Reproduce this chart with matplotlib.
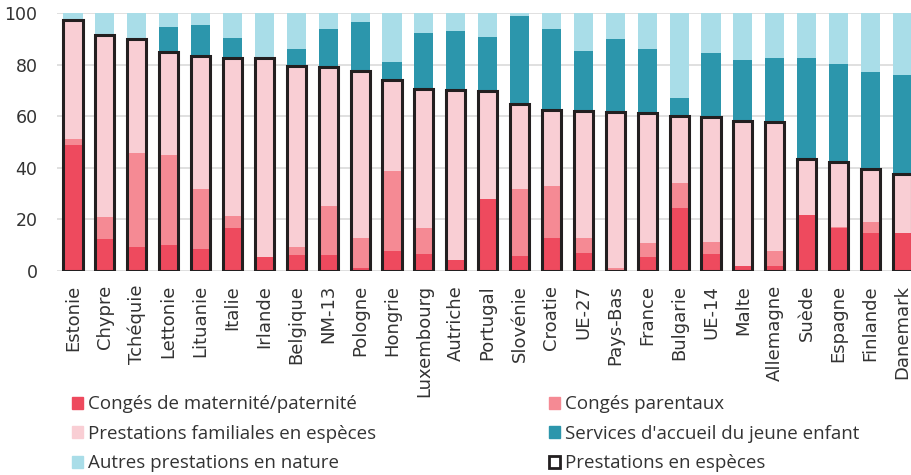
import numpy as np
import matplotlib.pyplot as plt
from matplotlib.patches import Patch

# Données (en % des dépenses)
pays = ["Estonie", "Chypre", "Tchéquie", "Lettonie", "Lituanie", "Italie", "Irlande",
        "Belgique", "NM-13", "Pologne", "Hongrie", "Luxembourg", "Autriche", "Portugal",
        "Slovénie", "Croatie", "UE-27", "Pays-Bas", "France", "Bulgarie", "UE-14", "Malte",
        "Allemagne", "Suède", "Espagne", "Finlande", "Danemark"]
maternite = [48.8, 12.3, 9.4, 10.1, 8.6, 16.8, 5.4, 6.2, 6.2, 1.3, 7.9, 6.6, 4.3, 27.8,
             5.8, 12.9, 6.8, 0.3, 5.3, 24.5, 6.6, 2.1, 2.1, 21.8, 16.5, 14.9, 14.6]
parentaux = [2.2, 8.5, 36.2, 34.9, 23.2, 4.6, 0.0, 3.1, 19.1, 11.6, 30.9, 10.1, 0.0, 0.0,
             26.0, 20.2, 6.1, 0.9, 5.4, 9.5, 4.5, 0.0, 5.7, 0.0, 0.4, 4.2, 0.2]
familiales = [46.4, 70.6, 44.3, 39.9, 51.4, 61.2, 77.2, 70.3, 53.7, 64.8, 35.1, 53.9, 65.9, 42.1,
              33.1, 29.3, 49.0, 60.3, 50.6, 26.2, 48.6, 55.9, 50.1, 21.6, 25.5, 20.4, 22.7]
accueil = [0.0, 0.0, 0.0, 9.5, 12.1, 7.7, 0.0, 6.3, 14.8, 18.8, 7.1, 21.8, 22.8, 20.8,
           33.9, 31.3, 23.5, 28.3, 24.7, 7.0, 24.7, 23.8, 24.7, 39.3, 37.7, 37.8, 38.5]
autres = [2.6, 8.6, 10.1, 5.6, 4.7, 9.7, 17.4, 14.1, 6.2, 3.5, 19.0, 7.6, 7.0, 9.3,
          1.2, 6.3, 14.6, 10.2, 14.0, 32.8, 15.6, 18.2, 17.4, 17.3, 19.9, 22.7, 24.0]

c_mat = "#EE4A5E"
c_par = "#F58A94"
c_fam = "#F9CED4"
c_acc = "#2C96AC"
c_aut = "#A9DDE8"

fig = plt.figure(figsize=(9.12, 4.75), dpi=100)
ax = fig.add_axes([0.0625, 0.4295, 0.9375, 0.5431])

x = np.arange(len(pays))
w = 0.6
bottom = np.zeros(len(pays))
for vals, col in [(maternite, c_mat), (parentaux, c_par), (familiales, c_fam),
                  (accueil, c_acc), (autres, c_aut)]:
    ax.bar(x, vals, w, bottom=bottom, color=col, zorder=2)
    bottom += np.array(vals)

# contour : prestations en espèces
especes = np.array(maternite) + np.array(parentaux) + np.array(familiales)
ax.bar(x, especes, w, fill=False, edgecolor="#231F20", linewidth=2.2, zorder=3)

ax.set_ylim(0, 100)
ax.set_xlim(-0.5, 26.3)
ax.set_yticks(range(0, 101, 20))
ax.grid(axis="y", color="#dddddd", linewidth=1.3, zorder=0)
for s in ax.spines.values():
    s.set_visible(False)
ax.set_xticks(x)
ax.set_xticklabels(pays, rotation=90, fontsize=13, color="#333333")
ax.tick_params(axis="x", length=0, pad=10)
ax.tick_params(axis="y", length=0, pad=14, labelsize=12.5, labelcolor="#333333")

handles = [Patch(color=c_mat, label="Congés de maternité/paternité"),
           Patch(color=c_fam, label="Prestations familiales en espèces"),
           Patch(color=c_aut, label="Autres prestations en nature"),
           Patch(color=c_par, label="Congés parentaux"),
           Patch(color=c_acc, label="Services d'accueil du jeune enfant"),
           Patch(facecolor="white", edgecolor="#231F20", linewidth=2, label="Prestations en espèces")]
fig.legend(handles=handles, ncol=2, loc="upper left", bbox_to_anchor=(0.079, 0.168),
           frameon=False, prop={"family": "Open Sans", "size": 13.5},
           handlelength=0.6, handleheight=0.6, handletextpad=0.25,
           columnspacing=9.2, labelspacing=0.62, labelcolor="#333333",
           borderaxespad=0, borderpad=0)

fig.savefig("out.png", dpi=100)
